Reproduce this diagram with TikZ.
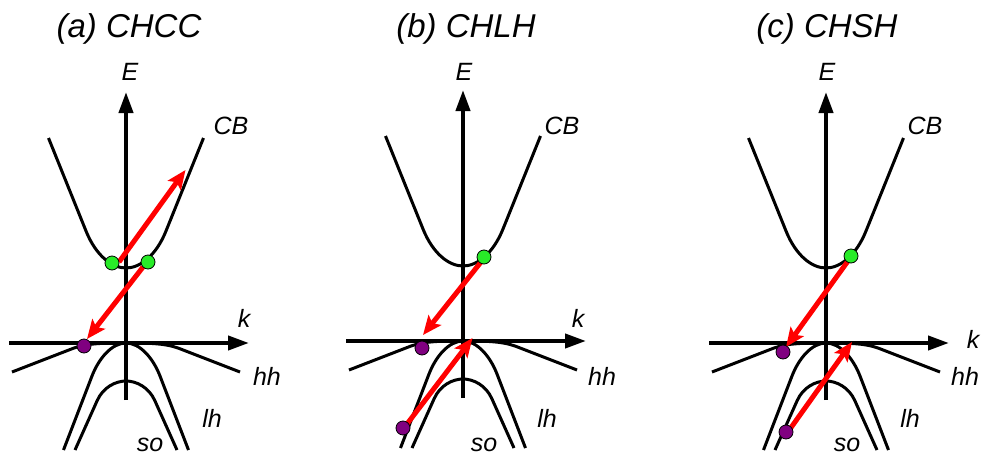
\documentclass[tikz,border=0pt]{standalone}
\usepackage{fontspec}
\setmainfont{Liberation Sans}
\usetikzlibrary{arrows.meta}
\definecolor{elgreen}{RGB}{40,235,40}
\definecolor{hlpurple}{RGB}{128,0,128}
\newcommand\drawbands[2]{%
\begin{scope}[shift={(#1,#2)}]
 \draw[band] (-77.5,-205) -- (-40,-112) .. controls (-30,-87.2) and (-14,-75) .. (0,-75) .. controls (14,-75) and (30,-87.2) .. (40,-112) -- (77.5,-205);
 \draw[band] (-114,29) -- (-52,5) .. controls (-38,0) and (-20,0) .. (0,0) .. controls (20,0) and (38,0) .. (52,5) -- (114,29);
 \draw[band] (-62.5,107) -- (-34,33) .. controls (-27,15) and (-14,0) .. (0,0) .. controls (14,0) and (27,15) .. (34,33) -- (62.5,107);
 \draw[band] (-51,107) -- (-29,58) .. controls (-23,44) and (-10,38) .. (0,38) .. controls (10,38) and (23,44) .. (29,58) -- (51,107);
 \coordinate (ebot) at (0,57);
 \coordinate (etop) at (0,-251);
 \coordinate (kleft) at (-117,0);
 \coordinate (kright) at (123,0);
 \draw[axisline] (ebot) -- (etop);
 \draw[axisline] (kleft) -- (kright);
\end{scope}}
\begin{document}
\begin{tikzpicture}[x=1pt,y=-1pt,
  band/.style={line width=3pt, line cap=butt, line join=round},
  axisline/.style={line width=4pt, -{Triangle[length=21pt,width=14pt]}},
  eharrow/.style={red, line width=5pt, -{Stealth[length=19pt,width=16pt,inset=4pt]}},
  lbl/.style={font=\fontsize{25}{29}\selectfont\itshape, anchor=base, inner sep=0pt},
  ttl/.style={font=\fontsize{33}{38}\selectfont\itshape, anchor=base, inner sep=0pt},
  gdot/.style={circle, draw=black, line width=0.8pt, fill=elgreen, minimum size=14pt, inner sep=0pt},
  pdot/.style={circle, draw=black, line width=0.8pt, fill=hlpurple, minimum size=14pt, inner sep=0pt},
]
\useasboundingbox[fill=white] (0,0) rectangle (985,455);

% ---------- panel (a)
\drawbands{126}{343}
\node[ttl] (ta) at (129,37) {(a) CHCC};
\node[lbl] (Ea) at (130,80) {E};
\node[lbl] (ka) at (244,327) {k};
\node[lbl] (CBa) at (231,134) {CB};
\node[lbl] (hha) at (267,385) {hh};
\node[lbl] (lha) at (212,427) {lh};
\node[lbl] (soa) at (150,451) {so};
\coordinate (a1s) at (119,262);
\coordinate (a1e) at (185.5,170);
\coordinate (a2s) at (143,267);
\coordinate (a2e) at (87,339);
\draw[eharrow] (a1s) -- (a1e);
\draw[eharrow] (a2s) -- (a2e);
\node[gdot] (ga1) at (112,263) {};
\node[gdot] (ga2) at (148,262) {};
\node[pdot] (pa1) at (84,346) {};

% ---------- panel (b)
\drawbands{463}{341}
\node[ttl] (tb) at (466,37) {(b) CHLH};
\node[lbl] (Eb) at (464,80) {E};
\node[lbl] (kb) at (578,327) {k};
\node[lbl] (CBb) at (562,134) {CB};
\node[lbl] (hhb) at (602,385) {hh};
\node[lbl] (lhb) at (547,427) {lh};
\node[lbl] (sob) at (484,451) {so};
\coordinate (b1s) at (481,262);
\coordinate (b1e) at (423,335);
\coordinate (b2s) at (407,424);
\coordinate (b2e) at (472.5,338);
\draw[eharrow] (b1s) -- (b1e);
\draw[eharrow] (b2s) -- (b2e);
\node[gdot] (gb1) at (484,257) {};
\node[pdot] (pb1) at (422,348) {};
\node[pdot] (pb2) at (403,428) {};

% ---------- panel (c)
\drawbands{826}{343}
\node[ttl] (tc) at (827,37) {(c) CHSH};
\node[lbl] (Ec) at (827,80) {E};
\node[lbl] (kc) at (973,348) {k};
\node[lbl] (CBc) at (925,134) {CB};
\node[lbl] (hhc) at (965,385) {hh};
\node[lbl] (lhc) at (910,427) {lh};
\node[lbl] (soc) at (847,451) {so};
\coordinate (c1s) at (848,261);
\coordinate (c1e) at (786,347);
\coordinate (c2s) at (790,429);
\coordinate (c2e) at (852,342);
\draw[eharrow] (c1s) -- (c1e);
\draw[eharrow] (c2s) -- (c2e);
\node[gdot] (gc1) at (851,256) {};
\node[pdot] (pc1) at (783,352) {};
\node[pdot] (pc2) at (786,432) {};
\end{tikzpicture}
\end{document}
